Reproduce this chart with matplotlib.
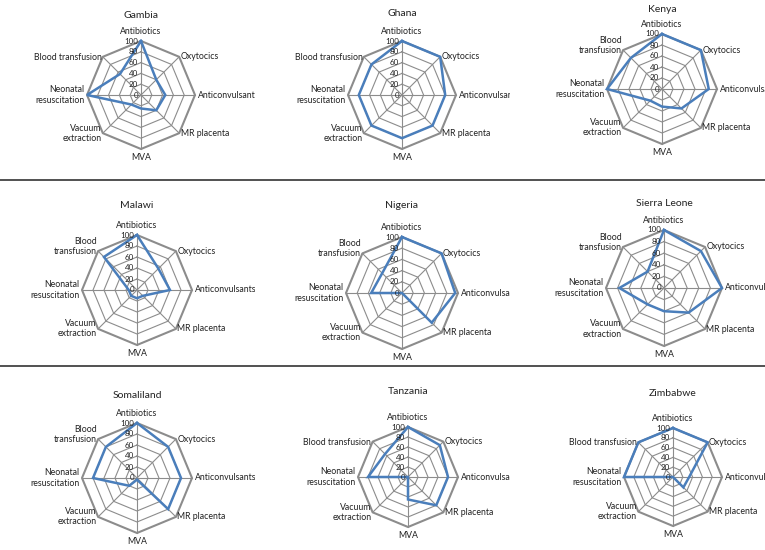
import numpy as np
import matplotlib
matplotlib.use("Agg")
import matplotlib.pyplot as plt
from matplotlib.lines import Line2D
from matplotlib.transforms import Bbox, TransformedBbox

plt.rcParams['font.family'] = ['Lato', 'DejaVu Sans']

# spokes, clockwise from the top
spokes = ["Antibiotics", "Oxytocics", "Anticonvulsants", "MR placenta", "MVA",
          "Vacuum\nextraction", "Neonatal\nresuscitation", "Blood transfusion"]
ticks = [0, 20, 40, 60, 80, 100]

countries = ["Gambia", "Ghana", "Kenya",
             "Malawi", "Nigeria", "Sierra Leone",
             "Somaliland", "Tanzania", "Zimbabwe"]

# % of facilities, same order as spokes
gambia = [100, 40, 45, 40, 25, 25, 100, 55]
ghana = [100, 100, 80, 80, 80, 80, 80, 80]
kenya = [100, 100, 85, 50, 32, 30, 100, 80]
malawi = [100, 55, 60, 15, 15, 15, 15, 85]
nigeria = [100, 100, 95, 75, 0, 0, 55, 50]
sierra_leone = [100, 90, 100, 60, 40, 40, 77, 40]
somaliland = [100, 80, 80, 80, 3, 20, 80, 80]
tanzania = [100, 90, 80, 80, 45, 0, 80, 65]
zimbabwe = [100, 100, 33, 30, 0, 0, 100, 100]

values = [gambia, ghana, kenya, malawi, nigeria, sierra_leone,
          somaliland, tanzania, zimbabwe]

# blood transfusion label is split on two lines in some panels
split_blood = [False, False, True, True, True, True, True, False, False]

# layout in pixels: centre x, centre y (from top), radius, title y
layout = [(141, 95, 54, 15), (402, 95, 54, 14), (662, 89, 55, 9),
          (137, 290, 55, 205), (402, 293, 56, 206), (664, 288, 58, 204),
          (137, 478, 55, 396), (408, 477, 50, 392), (673, 477, 49, 393)]

W, H = 765, 550
fig = plt.figure(figsize=(W / 100, H / 100), dpi=100)

theta = np.linspace(0, 2 * np.pi, len(spokes), endpoint=False)
theta_c = np.append(theta, theta[0])

blue = "#4a7ebb"
grid_c = "#8c8c8c"

# where each spoke label sits: (ha, va, dx, dy) in points
label_pos = [("center", "bottom", 0, 3.5), ("left", "center", 1, 0),
             ("left", "center", 2, 0), ("left", "center", 1, 0),
             ("center", "top", 0, -3), ("right", "center", -1, 0),
             ("right", "center", -2, 0), ("right", "bottom", -1, -3.5)]

for i, name in enumerate(countries):
    cx, cy, R, ty = layout[i]
    ax = fig.add_axes([(cx - R) / W, 1 - (cy + R) / H, 2 * R / W, 2 * R / H],
                      projection="polar")
    ax.set_theta_offset(np.pi / 2)
    ax.set_theta_direction(-1)
    ax.set_ylim(0, 100)
    ax.grid(False)
    ax.set_xticks([])
    ax.set_yticks([])
    ax.spines["polar"].set_visible(False)
    ax.patch.set_alpha(0)

    # octagon rings and spokes
    for t in ticks[1:]:
        lw = 1.5 if t == 100 else 0.8
        ax.plot(theta_c, [t] * len(theta_c), color=grid_c, lw=lw, clip_on=False, zorder=1)
    for th in theta:
        ax.plot([th, th], [0, 100], color=grid_c, lw=0.8, clip_on=False, zorder=1)

    vals = values[i] + values[i][:1]
    ax.plot(theta_c, vals, color=blue, lw=1.8, clip_on=False, zorder=3,
            solid_joinstyle="miter")

    for t in ticks:
        ax.annotate(str(t), xy=(0, t), xytext=(-2, 0), textcoords="offset points",
                    ha="right", va="center", fontsize=5.8, annotation_clip=False,
                    zorder=4, color="#222222")

    col = i % 3
    clip = TransformedBbox(Bbox.from_extents(col / 3, 0, (col + 1) / 3, 1), fig.transFigure)
    for k, lab in enumerate(spokes):
        if k == 7 and split_blood[i]:
            lab = "Blood\ntransfusion"
        ha, va, dx, dy = label_pos[k]
        a = ax.annotate(lab, xy=(theta[k], 100), xytext=(dx, dy),
                        textcoords="offset points", ha=ha, va=va, fontsize=6.3,
                        linespacing=1.15, annotation_clip=False, color="#222222")
        a.set_clip_on(True)
        a.set_clip_box(clip)

    fig.text(cx / W, 1 - ty / H, name, ha="center", va="center", fontsize=7.5,
             color="#222222")

# row separators
for y in [180, 366]:
    fig.add_artist(Line2D([0, 1], [1 - y / H, 1 - y / H], transform=fig.transFigure,
                          color="#333333", lw=1.2))

fig.savefig("out.png", dpi=100)
